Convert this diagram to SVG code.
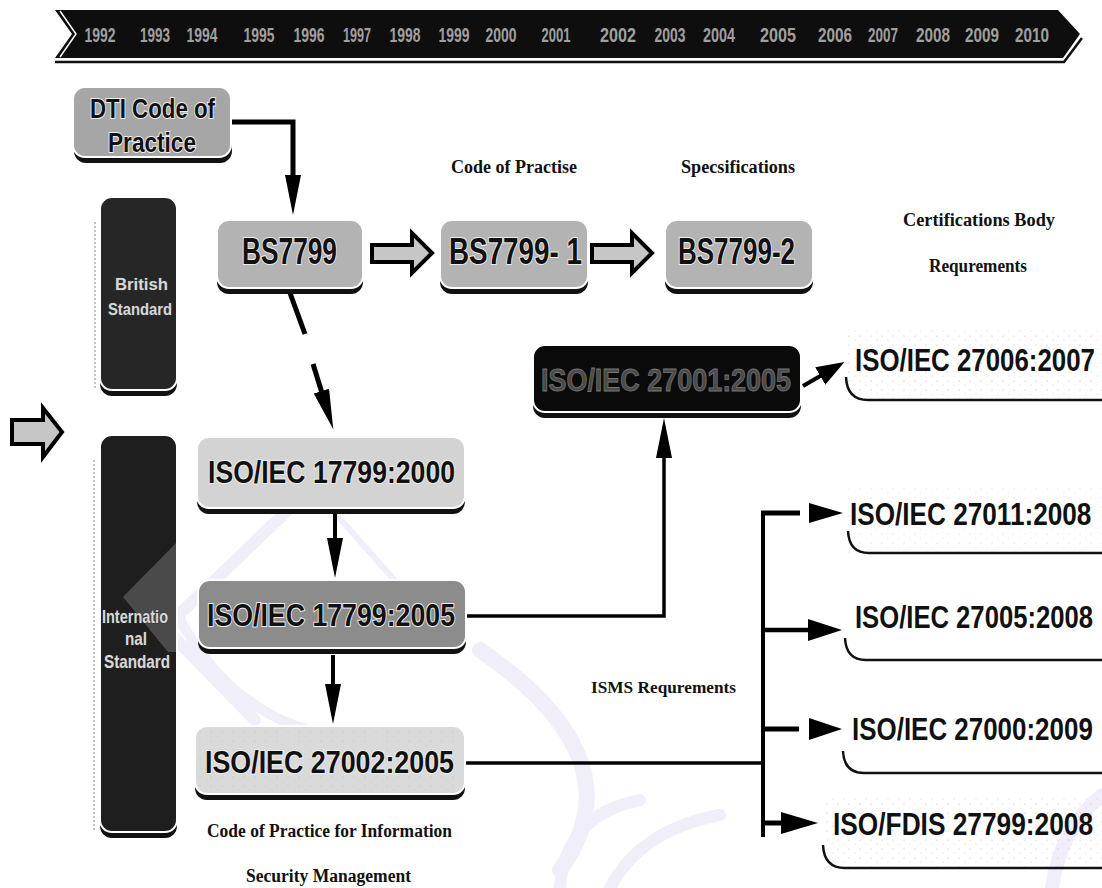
<svg xmlns="http://www.w3.org/2000/svg" width="1102" height="888" viewBox="0 0 1102 888">
<style>
.sh{fill:#111}
.bx{stroke:#fff;stroke-width:2}
.lbl{font-family:"Liberation Sans Narrow","Liberation Sans",Arial,sans-serif;font-weight:bold;fill:#111;stroke:#eee;stroke-width:2;paint-order:stroke}
.lblr{font-family:"Liberation Sans",Arial,sans-serif;font-weight:bold;fill:#111;font-size:31px}
.dk{font-family:"Liberation Sans Narrow","Liberation Sans",Arial,sans-serif;font-weight:bold;fill:#d8d8d8;stroke:#333;stroke-width:1;paint-order:stroke}
.yr{font-family:"Liberation Sans Narrow","Liberation Sans",Arial,sans-serif;font-weight:bold;font-size:20px;fill:#a0a0a0;text-anchor:middle}
.ser{font-family:"Liberation Serif","Times New Roman",serif;font-weight:bold;fill:#111}
.conn{stroke:#000;fill:none}
.ah{fill:#000}
.hollow{fill:#c6c6c6;stroke:#000;stroke-width:4;stroke-linejoin:miter}
.brk{fill:none;stroke:#111;stroke-width:2.5}
.wm{fill:none;stroke:#b9ace3;stroke-linecap:round}
</style>
<defs>
<marker id="ah" markerUnits="userSpaceOnUse" markerWidth="42" markerHeight="18" refX="2" refY="8" orient="auto"><path d="M0,0 L40,8 L0,16 z" fill="#000"/></marker>
<marker id="ahs" markerUnits="userSpaceOnUse" markerWidth="30" markerHeight="22" refX="2" refY="10" orient="auto"><path d="M0,0 L28,10 L0,20 z" fill="#000"/></marker>
<pattern id="speck" width="11" height="9" patternUnits="userSpaceOnUse"><circle cx="2" cy="3" r="0.6" fill="#bbb"/><circle cx="8" cy="7" r="0.5" fill="#ccc"/></pattern>
</defs>

<g id="watermark" opacity="0.2">
<path class="wm" d="M312,487 L165,628 L255,720" stroke-width="12"/>
<path class="wm" d="M312,487 L412,600" stroke-width="6"/>
<path class="wm" d="M175,610 Q250,760 420,735" stroke-width="10"/>
<path class="wm" d="M480,650 Q640,760 560,870" stroke-width="16"/>
<path class="wm" d="M560,888 Q565,815 640,800" stroke-width="12"/>
<path class="wm" d="M610,888 Q640,830 720,815" stroke-width="12"/>
<path class="wm" d="M1102,795 Q1060,830 1052,888" stroke-width="14"/>
</g>

<g id="timeline">
<polygon points="55,10 1058,10 1080,34 1063,58 55,58 72,34" fill="#0e0e0e"/>
<polyline points="55,62 1064,62 1082,38" fill="none" stroke="#111" stroke-width="2.5"/>
<polyline points="60,11 76,34 60,57" fill="none" stroke="#fff" stroke-width="1.5"/>
<g>
<text class="yr" x="100" y="42" textLength="31" lengthAdjust="spacingAndGlyphs">1992</text>
<text class="yr" x="155" y="42" textLength="30" lengthAdjust="spacingAndGlyphs">1993</text>
<text class="yr" x="202" y="42" textLength="31" lengthAdjust="spacingAndGlyphs">1994</text>
<text class="yr" x="259" y="42" textLength="31" lengthAdjust="spacingAndGlyphs">1995</text>
<text class="yr" x="309" y="42" textLength="31" lengthAdjust="spacingAndGlyphs">1996</text>
<text class="yr" x="357" y="42" textLength="28" lengthAdjust="spacingAndGlyphs">1997</text>
<text class="yr" x="405" y="42" textLength="31" lengthAdjust="spacingAndGlyphs">1998</text>
<text class="yr" x="454" y="42" textLength="31" lengthAdjust="spacingAndGlyphs">1999</text>
<text class="yr" x="501" y="42" textLength="31" lengthAdjust="spacingAndGlyphs">2000</text>
<text class="yr" x="556" y="42" textLength="29" lengthAdjust="spacingAndGlyphs">2001</text>
<text class="yr" x="618" y="42" textLength="36" lengthAdjust="spacingAndGlyphs">2002</text>
<text class="yr" x="670" y="42" textLength="31" lengthAdjust="spacingAndGlyphs">2003</text>
<text class="yr" x="719" y="42" textLength="32" lengthAdjust="spacingAndGlyphs">2004</text>
<text class="yr" x="778" y="42" textLength="36" lengthAdjust="spacingAndGlyphs">2005</text>
<text class="yr" x="835" y="42" textLength="34" lengthAdjust="spacingAndGlyphs">2006</text>
<text class="yr" x="883" y="42" textLength="30" lengthAdjust="spacingAndGlyphs">2007</text>
<text class="yr" x="933" y="42" textLength="34" lengthAdjust="spacingAndGlyphs">2008</text>
<text class="yr" x="982" y="42" textLength="34" lengthAdjust="spacingAndGlyphs">2009</text>
<text class="yr" x="1032" y="42" textLength="34" lengthAdjust="spacingAndGlyphs">2010</text>
</g>
</g>

<g id="connectors">
<path class="conn" d="M231,122 H293 V177" stroke-width="5" marker-end="url(#ah)"/>
<line class="conn" x1="290" y1="293" x2="305" y2="334" stroke-width="5"/>
<line class="conn" x1="313" y1="364" x2="322" y2="393" stroke-width="5" marker-end="url(#ah)"/>
<line class="conn" x1="335" y1="510" x2="335" y2="540" stroke-width="4" marker-end="url(#ah)"/>
<line class="conn" x1="333" y1="655" x2="333" y2="686" stroke-width="4" marker-end="url(#ah)"/>
<path class="conn" d="M466,616 H664 V456" stroke-width="3.5" marker-end="url(#ah)"/>
<line class="conn" x1="803" y1="386" x2="822" y2="375" stroke-width="4" marker-end="url(#ahs)"/>
<line class="conn" x1="466" y1="763" x2="765" y2="763" stroke-width="3.5"/>
<line class="conn" x1="763" y1="511" x2="763" y2="837" stroke-width="4"/>
<line class="conn" x1="761" y1="513" x2="800" y2="513" stroke-width="5"/>
<polygon class="ah" points="809,503 843,513 809,523"/>
<line class="conn" x1="761" y1="630" x2="812" y2="630" stroke-width="4.5"/>
<polygon class="ah" points="808,619 842,630 808,641"/>
<line class="conn" x1="761" y1="729" x2="799" y2="729" stroke-width="5"/>
<polygon class="ah" points="809,718 842,729 809,740"/>
<line class="conn" x1="761" y1="823" x2="786" y2="823" stroke-width="5"/>
<polygon class="ah" points="781,812 818,823 781,834"/>
<polygon class="hollow" points="372,245 412,245 412,233 432,253 412,273 412,262 372,262"/>
<polygon class="hollow" points="592,245 632,245 632,233 652,253 632,273 632,262 592,262"/>
<polygon class="hollow" points="12,420 43,420 43,408 62,432 43,457 43,444 12,444"/>
</g>

<g id="dti">
<rect class="sh" x="74" y="93" width="158" height="70" rx="12"/>
<rect class="bx" x="73" y="87" width="158" height="70" rx="12" fill="#a6a6a6"/>
<text class="lbl" x="90" y="118" font-size="27" textLength="125" lengthAdjust="spacingAndGlyphs">DTI Code of</text>
<text class="lbl" x="108" y="152" font-size="27" textLength="88" lengthAdjust="spacingAndGlyphs">Practice</text>
</g>

<g id="british">
<line x1="95" y1="222" x2="95" y2="388" stroke="#888" stroke-width="1" stroke-dasharray="2 2"/>
<rect class="sh" x="100" y="203" width="77" height="193" rx="12"/>
<rect class="bx" x="100" y="197" width="77" height="193" rx="12" fill="#262626"/>
<text class="dk" x="115" y="290" font-size="17" textLength="53" lengthAdjust="spacingAndGlyphs">British</text>
<text class="dk" x="108" y="315" font-size="17" textLength="64" lengthAdjust="spacingAndGlyphs">Standard</text>
</g>

<g id="international">
<line x1="94" y1="460" x2="94" y2="830" stroke="#888" stroke-width="1" stroke-dasharray="2 2"/>
<rect class="sh" x="100" y="441" width="77" height="397" rx="12"/>
<rect class="bx" x="100" y="435" width="77" height="397" rx="12" fill="#1e1e1e"/>
<polygon points="176,543 123,597 168,652 176,652" fill="#4a4a4a"/>
<text class="dk" x="102" y="623" font-size="19" textLength="66" lengthAdjust="spacingAndGlyphs">Internatio</text>
<text class="dk" x="125" y="645" font-size="19" textLength="22" lengthAdjust="spacingAndGlyphs">nal</text>
<text class="dk" x="104" y="668" font-size="19" textLength="66" lengthAdjust="spacingAndGlyphs">Standard</text>
</g>

<g id="bs7799">
<rect class="sh" x="217" y="226" width="146" height="68" rx="12"/>
<rect class="bx" x="217" y="220" width="146" height="68" rx="12" fill="#b3b3b3"/>
<text class="lbl" x="242" y="264" font-size="36" textLength="95" lengthAdjust="spacingAndGlyphs">BS7799</text>
</g>

<g id="bs7799-1">
<rect class="sh" x="440" y="226" width="148" height="68" rx="12"/>
<rect class="bx" x="440" y="220" width="148" height="68" rx="12" fill="#b3b3b3"/>
<text class="lbl" x="449" y="264" font-size="36" textLength="133" lengthAdjust="spacingAndGlyphs">BS7799- 1</text>
</g>

<g id="bs7799-2">
<rect class="sh" x="665" y="226" width="148" height="68" rx="12"/>
<rect class="bx" x="665" y="220" width="148" height="68" rx="12" fill="#b3b3b3"/>
<text class="lbl" x="678" y="264" font-size="36" textLength="117" lengthAdjust="spacingAndGlyphs">BS7799-2</text>
</g>

<g id="labels-top">
<text class="ser" x="451" y="173" font-size="18" textLength="126" lengthAdjust="spacingAndGlyphs">Code of Practise</text>
<text class="ser" x="681" y="173" font-size="18" textLength="114" lengthAdjust="spacingAndGlyphs">Specsifications</text>
<text class="ser" x="903" y="226" font-size="18" textLength="152" lengthAdjust="spacingAndGlyphs">Certifications Body</text>
<text class="ser" x="929" y="272" font-size="18" textLength="98" lengthAdjust="spacingAndGlyphs">Requrements</text>
</g>

<g id="iso17799-2000">
<rect class="sh" x="197" y="443" width="268" height="71" rx="12"/>
<rect class="bx" x="197" y="437" width="268" height="71" rx="12" fill="#d3d3d3"/>
<text class="lbl" x="208" y="483" font-size="32" textLength="247" lengthAdjust="spacingAndGlyphs">ISO/IEC 17799:2000</text>
</g>

<g id="iso17799-2005">
<rect class="sh" x="198" y="586" width="268" height="68" rx="12"/>
<rect class="bx" x="198" y="580" width="268" height="68" rx="12" fill="#8c8c8c"/>
<text class="lbl" x="207" y="626" font-size="32" textLength="248" lengthAdjust="spacingAndGlyphs">ISO/IEC 17799:2005</text>
</g>

<g id="iso27002">
<rect class="sh" x="195" y="732" width="270" height="68" rx="12"/>
<rect class="bx" x="195" y="726" width="270" height="68" rx="12" fill="#dadada"/>
<rect x="197" y="728" width="266" height="64" rx="11" fill="url(#speck)"/>
<text class="lbl" x="205" y="773" font-size="32" textLength="249" lengthAdjust="spacingAndGlyphs">ISO/IEC 27002:2005</text>
<text class="ser" x="207" y="837" font-size="18" textLength="245" lengthAdjust="spacingAndGlyphs">Code of Practice for Information</text>
<text class="ser" x="246" y="882" font-size="18" textLength="165" lengthAdjust="spacingAndGlyphs">Security Management</text>
</g>

<g id="iso27001">
<rect class="sh" x="533" y="351" width="268" height="67" rx="12"/>
<rect class="bx" x="533" y="345" width="268" height="67" rx="12" fill="#0a0a0a"/>
<text x="541" y="391" font-size="32" textLength="250" lengthAdjust="spacingAndGlyphs" font-family="Liberation Sans Narrow, Liberation Sans, Arial, sans-serif" font-weight="bold" fill="#4a4a4a" stroke="#777" stroke-width="0.8">ISO/IEC 27001:2005</text>
</g>

<g id="isms-label">
<text class="ser" x="591" y="693" font-size="16" textLength="145" lengthAdjust="spacingAndGlyphs">ISMS Requrements</text>
</g>

<g id="iso27006">
<rect x="846" y="330" width="256" height="70" fill="url(#speck)"/>
<text class="lblr" transform="translate(855,371) scale(0.834,1)">ISO/IEC 27006:2007</text>
<path class="brk" d="M846,377 Q847,400 868,400 H1102"/>
</g>

<g id="iso27011">
<rect x="846" y="485" width="256" height="68" fill="url(#speck)" opacity="0.6"/>
<text class="lblr" transform="translate(850,525) scale(0.844,1)">ISO/IEC 27011:2008</text>
<path class="brk" d="M848,531 Q849,553 869,553 H1102"/>
</g>

<g id="iso27005">
<text class="lblr" transform="translate(855,628) scale(0.827,1)">ISO/IEC 27005:2008</text>
<path class="brk" d="M845,638 Q846,660 866,660 H1102"/>
</g>

<g id="iso27000">
<text class="lblr" transform="translate(852,740) scale(0.837,1)">ISO/IEC 27000:2009</text>
<path class="brk" d="M843,751 Q844,773 864,773 H1102"/>
</g>

<g id="isofdis27799">
<rect x="824" y="798" width="278" height="70" fill="url(#speck)"/>
<text class="lblr" transform="translate(833,835) scale(0.848,1)">ISO/FDIS 27799:2008</text>
<path class="brk" d="M823,845 Q824,868 845,868 H1102"/>
</g>
</svg>
